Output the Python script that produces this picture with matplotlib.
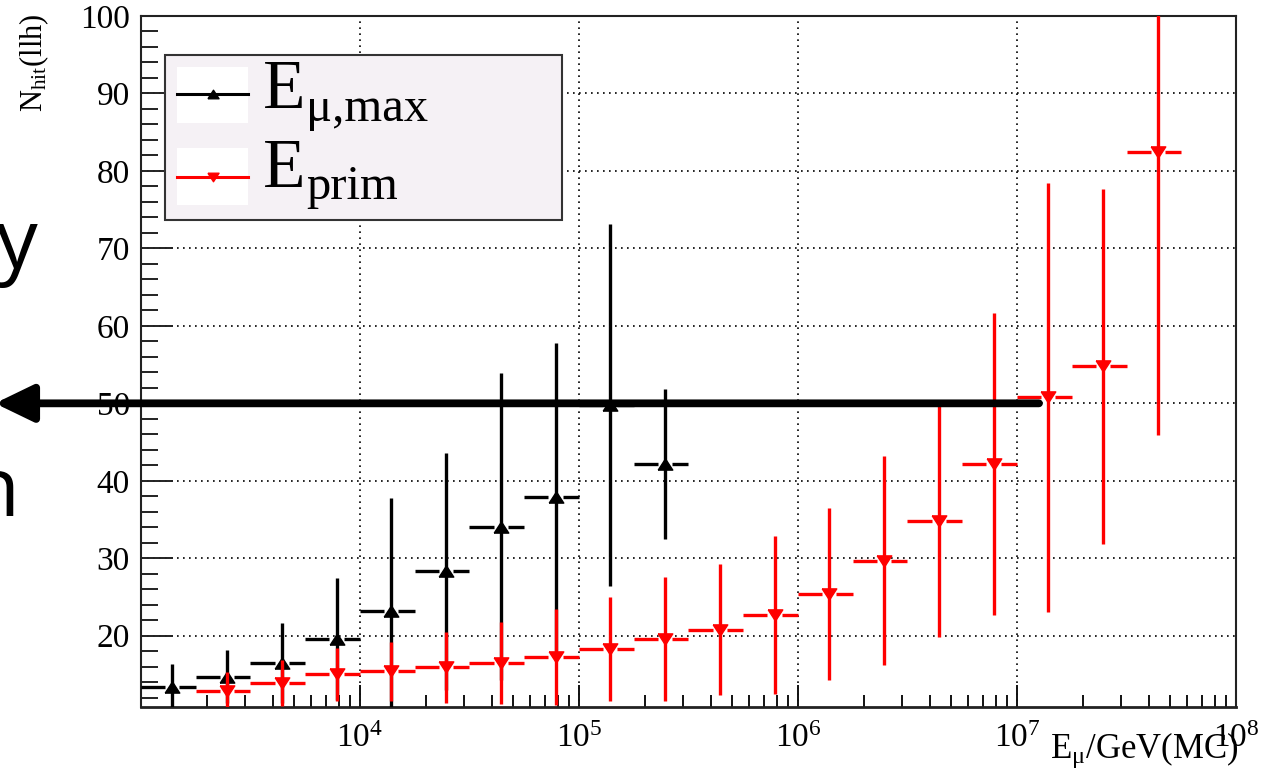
import numpy as np
import matplotlib
matplotlib.use("Agg")
import matplotlib.pyplot as plt
from matplotlib.patches import Rectangle
from matplotlib.lines import Line2D
from matplotlib.ticker import (FixedLocator, LogLocator, MultipleLocator,
                               FuncFormatter, NullFormatter)

plt.rcParams["font.family"] = ["Liberation Serif", "DejaVu Serif"]
plt.rcParams["mathtext.fontset"] = "custom"
plt.rcParams["mathtext.rm"] = "Liberation Serif"
plt.rcParams["mathtext.it"] = "Liberation Serif:italic"

W, H = 1261, 779

# quarter-decade energy bins: lower edge in log10(E/GeV)
BIN_WIDTH_DEC = 0.25

# highest muon energy in the event
lo_mu = [3.00, 3.25, 3.50, 3.75, 4.00, 4.25, 4.50, 4.75, 5.00, 5.25]
nhit_mu = [13.4, 14.7, 16.5, 19.6, 23.2, 28.3, 34.1, 37.9, 49.8, 42.2]
err_mu = [2.9, 3.4, 5.2, 7.9, 14.6, 15.3, 19.8, 19.9, 23.4, 9.7]

# primary energy
lo_prim = [3.25, 3.50, 3.75, 4.00, 4.25, 4.50, 4.75, 5.00, 5.25,
           5.50, 5.75, 6.00, 6.25, 6.50, 6.75, 7.00, 7.25, 7.50]
nhit_prim = [12.9, 13.9, 15.0, 15.4, 15.9, 16.5, 17.2, 18.3, 19.6,
             20.8, 22.7, 25.4, 29.7, 34.8, 42.2, 50.8, 54.8, 82.5]
err_prim = [2.4, 3.0, 3.4, 3.8, 4.6, 5.3, 6.2, 6.7, 8.0,
            8.4, 10.2, 11.1, 13.5, 14.9, 19.5, 27.7, 22.9, 36.6]

X_TICKS = [1e4, 1e5, 1e6, 1e7, 1e8]
CUT_VALUE = 50.0

fig = plt.figure(figsize=(W / 100, H / 100), dpi=100)
fig.patch.set_facecolor("white")
ax = fig.add_axes([141 / W, 1 - 707 / H, (1236 - 141) / W, (707 - 16) / H])

ax.set_xscale("log")
ax.set_xlim(1e3, 1e8)
ax.set_ylim(10.8, 100)

up_tri = [(-1.3, -1.0), (1.3, -1.0), (0.0, 1.0), (-1.3, -1.0)]
down_tri = [(-1.3, 1.0), (1.3, 1.0), (0.0, -1.0), (-1.3, 1.0)]
GAP = 0.033  # decades kept free around the marker


def draw_profile(lo, vals, errs, color, marker, z):
    lo = np.asarray(lo)
    vals = np.asarray(vals)
    errs = np.asarray(errs)
    x_lo = 10 ** lo
    x_hi = 10 ** (lo + BIN_WIDTH_DEC)
    xc = 0.5 * (x_lo + x_hi)
    ax.hlines(vals, x_lo, xc / 10 ** GAP, color=color, lw=2.4, zorder=z)
    ax.hlines(vals, xc * 10 ** GAP, x_hi, color=color, lw=2.4, zorder=z)
    ax.vlines(xc, vals - errs, vals + errs, color=color, lw=2.4, zorder=z)
    ax.plot(xc, vals, ls="none", marker=marker, ms=10.5, color=color,
            mec=color, zorder=z + 0.5)


draw_profile(lo_mu, nhit_mu, err_mu, "black", up_tri, 3)
draw_profile(lo_prim, nhit_prim, err_prim, "#ff0000", down_tri, 4)

# axes styling
ax.xaxis.set_major_locator(FixedLocator(X_TICKS))
ax.xaxis.set_minor_locator(LogLocator(base=10, subs=np.arange(2, 10), numticks=30))
ax.xaxis.set_major_formatter(
    FuncFormatter(lambda v, p: r"$\mathregular{10^{%d}}$" % round(np.log10(v))))
ax.xaxis.set_minor_formatter(NullFormatter())
ax.yaxis.set_major_locator(MultipleLocator(10))
ax.yaxis.set_minor_locator(MultipleLocator(2))
ax.yaxis.set_major_formatter(FuncFormatter(lambda v, p: "%d" % round(v)))

ax.tick_params(axis="x", which="major", direction="in", length=16, width=1.4,
               pad=12, labelsize=24, top=False, color="#111")
ax.tick_params(axis="x", which="minor", direction="in", length=8.5, width=1.4,
               top=False, color="#111")
ax.tick_params(axis="y", which="major", direction="in", length=23, width=1.4,
               pad=8, labelsize=24, right=False, color="#222")
ax.tick_params(axis="y", which="minor", direction="in", length=12, width=1.4,
               right=False, color="#222")

for side, lw in (("left", 1.5), ("bottom", 2.0), ("right", 1.5), ("top", 1.5)):
    ax.spines[side].set_linewidth(lw)
    ax.spines[side].set_color("#222")

ax.grid(True, which="major", color="black", linestyle=(0, (1, 2.6)), lw=1.2, zorder=1)
ax.set_axisbelow(True)

# axis titles
fig.text(34 / W, 1 - 13 / H, r"N$_{\mathregular{hit}}$(llh)", rotation=90,
         ha="center", va="top", fontsize=22)
fig.text(1238 / W, 1 - 758 / H, r"E$_{\mathregular{μ}}$/GeV(MC)",
         ha="right", va="baseline", fontsize=25)


def fx(px):
    return px / W


def fy(py):
    return 1 - py / H


# legend box
fig.patches.append(Rectangle((fx(165), fy(220)), fx(562) - fx(165), fy(55) - fy(220),
                             transform=fig.transFigure, facecolor="#f5f1f5",
                             edgecolor="#333333", lw=1.5, zorder=5))
for top, bottom, color, mk, y_line, e_base, sub_text, sub_base in (
        (67, 123, "black", up_tri, 94, 108, "μ,max", 121),
        (148, 205, "#ff0000", down_tri, 177, 187, "prim", 199)):
    fig.patches.append(Rectangle((fx(177), fy(bottom)), fx(248) - fx(177),
                                 fy(top) - fy(bottom), transform=fig.transFigure,
                                 facecolor="white", edgecolor="none", zorder=6))
    fig.add_artist(Line2D([fx(177), fx(248)], [fy(y_line), fy(y_line)],
                          transform=fig.transFigure, color=color, lw=2.2, zorder=7))
    fig.add_artist(Line2D([fx(213)], [fy(y_line)], transform=fig.transFigure,
                          ls="none", marker=mk, ms=8, color=color, zorder=8))
    fig.text(fx(263), fy(e_base), "E", fontsize=50, ha="left", va="baseline",
             zorder=8)
    fig.text(fx(306), fy(sub_base), sub_text, fontsize=35, ha="left",
             va="baseline", zorder=8)

# cut marker arrow
ax.annotate("", xy=(-0.004, CUT_VALUE), xycoords=("figure fraction", "data"),
            xytext=(1.26e7, CUT_VALUE), textcoords="data",
            arrowprops=dict(arrowstyle="-|>,head_length=1.55,head_width=0.75",
                            mutation_scale=15, lw=5.6, color="black",
                            shrinkA=0, shrinkB=0),
            annotation_clip=False, zorder=10)

# slide text running in from the left
fig.text(38 / W, 1 - 268 / H, "y", fontfamily="Open Sans", fontsize=60,
         ha="right", va="baseline")
fig.text(20 / W, 1 - 516 / H, "n", fontfamily="Open Sans", fontsize=60,
         ha="right", va="baseline")

fig.savefig("out.png", dpi=100)
